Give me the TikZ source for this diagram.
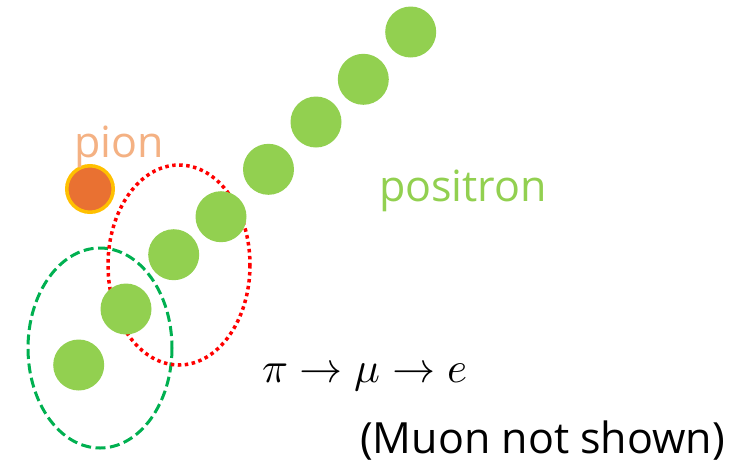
\documentclass[tikz,border=0pt]{standalone}
\usepackage{fontspec}
\usepackage{unicode-math}
\setmainfont{Open Sans}
\setmathfont{Latin Modern Math}
\usepackage{tikz}
\usetikzlibrary{positioning}

\definecolor{hitgreen}{HTML}{92D050}
\definecolor{pionfill}{HTML}{E97132}
\definecolor{pionring}{HTML}{FFC000}
\definecolor{pionlabel}{HTML}{F4B183}
\definecolor{ringgreen}{HTML}{00B050}

\tikzset{
  hit/.style={circle, fill=hitgreen, inner sep=0pt, minimum size=51pt},
  pionhit/.style={circle, fill=pionfill, draw=pionring, line width=3.5pt,
                  inner sep=0pt, minimum size=46.5pt},
  biglabel/.style={font=\fontsize{43}{50}\selectfont, inner sep=0pt}
}

\begin{document}
\begin{tikzpicture}[x=1pt, y=-1pt]
  \useasboundingbox (0,0) rectangle (741,464);
  % clusters
  \draw[ringgreen, line width=3pt, dash pattern=on 10pt off 4.5pt]
        (100,348) ellipse [x radius=72, y radius=100];
  \draw[red, line width=3.5pt, dash pattern=on 3.5pt off 3.5pt]
        (179,265) ellipse [x radius=71, y radius=100];
  % positron track
  \foreach \i/\px/\py in {1/78.7/365,2/126/309,3/173.7/254.7,4/221/216.7,
                          5/268.5/169.3,6/316/122,7/363.3/79.3,8/410.7/32}{
    \node[hit] (e\i) at (\px,\py) {};
  }
  \node[pionhit] (pi) at (90,189) {};
  \node[biglabel, text=pionlabel, anchor=base] (pilab) at (119,157) {pion};
  \node[biglabel, text=hitgreen, anchor=base] (poslab) at (463,201) {positron};
  \node[biglabel, anchor=base west] (chain) at (262,382)
        {$\pi \rightarrow \mu \rightarrow e$};
  \node[biglabel, anchor=base west] (note) at (360,453) {(Muon not shown)};
\end{tikzpicture}
\end{document}
